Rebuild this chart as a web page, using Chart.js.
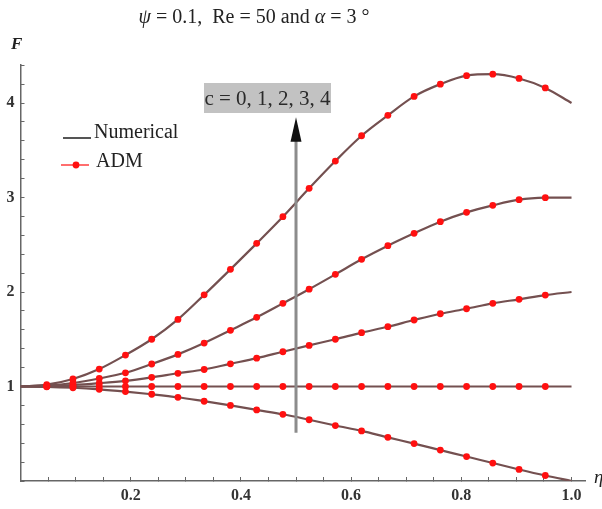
<!DOCTYPE html>
<html>
<head>
<meta charset="utf-8">
<script src="https://cdn.jsdelivr.net/npm/chart.js@4.4.1/dist/chart.umd.min.js"></script>
<style>
  html, body { margin: 0; padding: 0; background: #ffffff; }
  #wrap { width: 602px; height: 509px; position: relative; }
  canvas { display: block; }
</style>
</head>
<body>
<div id="wrap"><canvas id="c" width="602" height="509"></canvas></div>
<script>
// ---- data ----
const eta = [0, 0.0476, 0.0952, 0.1429, 0.1905, 0.2381, 0.2857, 0.3333, 0.381, 0.4286, 0.4762,
             0.5238, 0.5714, 0.619, 0.6667, 0.7143, 0.7619, 0.8095, 0.8571, 0.9048, 0.9524, 1.0];
const cValues = [0, 1, 2, 3, 4];
const F_c0 = [1, 0.997, 0.987, 0.970, 0.946, 0.918, 0.886, 0.844, 0.800, 0.752, 0.706,
              0.648, 0.587, 0.530, 0.462, 0.396, 0.327, 0.259, 0.190, 0.122, 0.058, 0];
const F_c1 = [1, 1, 1, 1, 1, 1, 1, 1, 1, 1, 1, 1, 1, 1, 1, 1, 1, 1, 1, 1, 1, 1];
const F_c2 = [1, 1.004, 1.015, 1.035, 1.060, 1.097, 1.140, 1.180, 1.240, 1.300, 1.368,
              1.435, 1.500, 1.570, 1.633, 1.704, 1.770, 1.823, 1.880, 1.923, 1.968, 2.0];
const F_c3 = [1, 1.010, 1.037, 1.085, 1.145, 1.238, 1.340, 1.460, 1.595, 1.732, 1.880,
              2.030, 2.187, 2.346, 2.490, 2.621, 2.744, 2.843, 2.917, 2.977, 2.998, 3.0];
const F_c4 = [1, 1.020, 1.080, 1.185, 1.333, 1.500, 1.710, 1.970, 2.240, 2.515, 2.797,
              3.097, 3.386, 3.654, 3.870, 4.070, 4.200, 4.290, 4.305, 4.260, 4.160, 4.0];
const seriesF = [F_c0, F_c1, F_c2, F_c3, F_c4];
// ADM markers are shown at interior nodes only (first and last node excluded)
const admFirst = 1, admLast = 20;
// arrow (in data units)
const arrowEta = [0.5, 0.5];
const arrowF = [0.51, 3.6];
const arrowTipF = 3.85;
// tick labels
const xTickValues = [0.2, 0.4, 0.6, 0.8, 1.0];
const xTickLabels = ['0.2', '0.4', '0.6', '0.8', '1.0'];
const yTickValues = [1, 2, 3, 4];
const yTickLabels = ['1', '2', '3', '4'];

// ---- build datasets ----
const toPts = (xs, ys, a, b) => xs.slice(a, b + 1).map((x, i) => ({ x: x, y: ys[a + i] }));

const datasets = [];
datasets.push({
  label: 'arrow',
  data: toPts(arrowEta, arrowF, 0, 1),
  borderColor: '#8c8c8c',
  borderWidth: 3,
  pointRadius: 0,
  tension: 0
});
seriesF.forEach((ys, i) => {
  datasets.push({
    label: 'ADM c=' + cValues[i],
    data: toPts(eta, ys, admFirst, admLast),
    showLine: false,
    pointRadius: 3.4,
    pointBackgroundColor: '#ff1010',
    pointBorderWidth: 0,
    pointBorderColor: '#ff1010'
  });
});
seriesF.forEach((ys, i) => {
  datasets.push({
    label: 'Numerical c=' + cValues[i],
    data: toPts(eta, ys, 0, eta.length - 1),
    borderColor: '#745050',
    borderWidth: 2.2,
    pointRadius: 0,
    cubicInterpolationMode: 'monotone'
  });
});

const serif = "'Liberation Serif', 'Times New Roman', serif";

function matchLabel(v, vals, labels) {
  for (let i = 0; i < vals.length; i++) if (Math.abs(v - vals[i]) < 1e-6) return labels[i];
  return '';
}

const decor = {
  id: 'decor',
  afterDatasetsDraw(chart) {
    const ctx = chart.ctx;
    const xs = chart.scales.x, ys = chart.scales.y;
    // arrow head
    const px = xs.getPixelForValue(arrowEta[1]);
    const tip = ys.getPixelForValue(arrowTipF);
    const base = ys.getPixelForValue(arrowF[1]) ;
    ctx.save();
    ctx.fillStyle = '#111';
    ctx.beginPath();
    ctx.moveTo(px, tip);
    ctx.lineTo(px - 5.5, base + 1);
    ctx.lineTo(px + 5.5, base + 1);
    ctx.closePath();
    ctx.fill();
    ctx.restore();
  },
  afterDraw(chart) {
    const ctx = chart.ctx;
    ctx.save();
    ctx.textBaseline = 'alphabetic';
    ctx.fillStyle = '#222';
    // title with mixed italic segments
    const segs = [
      ['italic 20px ' + serif, '\u03C8'],
      ['20px ' + serif, ' = 0.1,  Re = 50 and '],
      ['italic 20px ' + serif, '\u03B1'],
      ['20px ' + serif, ' = 3 \u00B0']
    ];
    let total = 0;
    segs.forEach(s => { ctx.font = s[0]; total += ctx.measureText(s[1]).width; });
    let tx = 254 - total / 2;
    segs.forEach(s => { ctx.font = s[0]; ctx.fillText(s[1], tx, 23); tx += ctx.measureText(s[1]).width; });

    // axis names
    ctx.font = 'italic bold 17px ' + serif;
    ctx.fillText('F', 11, 49);
    ctx.font = 'italic 19px ' + serif;
    ctx.fillText('\u03B7', 594, 483);

    // annotation box
    ctx.fillStyle = '#c2c2c2';
    ctx.fillRect(204, 83, 127, 30);
    ctx.fillStyle = '#2a2a2a';
    ctx.font = '21px ' + serif;
    ctx.textAlign = 'center';
    ctx.fillText('c = 0, 1, 2, 3, 4', 267.5, 105);
    ctx.textAlign = 'left';

    // legend
    ctx.strokeStyle = '#555';
    ctx.lineWidth = 2;
    ctx.beginPath(); ctx.moveTo(63, 138); ctx.lineTo(91, 138); ctx.stroke();
    ctx.fillStyle = '#222';
    ctx.font = '20px ' + serif;
    ctx.fillText('Numerical', 94, 138);
    ctx.strokeStyle = '#ff2020';
    ctx.lineWidth = 1.3;
    ctx.beginPath(); ctx.moveTo(61, 165); ctx.lineTo(89, 165); ctx.stroke();
    ctx.fillStyle = '#ff1010';
    ctx.beginPath(); ctx.arc(76, 165, 3.4, 0, Math.PI * 2); ctx.fill();
    ctx.fillStyle = '#222';
    ctx.fillText('ADM', 96, 167);
    ctx.restore();
  }
};

new Chart(document.getElementById('c'), {
  type: 'line',
  data: { datasets: datasets },
  plugins: [decor],
  options: {
    responsive: false,
    devicePixelRatio: 1,
    animation: false,
    layout: { padding: { left: 0, right: 16.7, top: 64.3, bottom: 0 } },
    plugins: { legend: { display: false }, tooltip: { enabled: false }, title: { display: false } },
    scales: {
      x: {
        type: 'linear',
        position: 'bottom',
        min: 0,
        max: 1.025,
        afterFit: (s) => { s.height = 28; },
        border: { display: true, color: '#666', width: 1.5 },
        grid: { display: true, drawOnChartArea: false, drawTicks: true, tickLength: -4, color: '#666', tickWidth: 1 },
        ticks: {
          stepSize: 0.05,
          autoSkip: false,
          includeBounds: false,
          maxRotation: 0,
          padding: 9,
          color: '#333',
          font: { family: serif, size: 16, weight: 'bold' },
          callback: (v) => matchLabel(v, xTickValues, xTickLabels)
        }
      },
      y: {
        type: 'linear',
        position: 'left',
        min: 0,
        max: 4.41,
        afterFit: (s) => { s.width = 20.5; },
        border: { display: true, color: '#666', width: 1.5 },
        grid: { display: true, drawOnChartArea: false, drawTicks: true, tickLength: -4, color: '#666', tickWidth: 1 },
        ticks: {
          stepSize: 0.2,
          autoSkip: false,
          includeBounds: false,
          padding: 10,
          color: '#333',
          font: { family: serif, size: 16, weight: 'bold' },
          callback: (v) => matchLabel(v, yTickValues, yTickLabels)
        }
      }
    }
  }
});
</script>
</body>
</html>
